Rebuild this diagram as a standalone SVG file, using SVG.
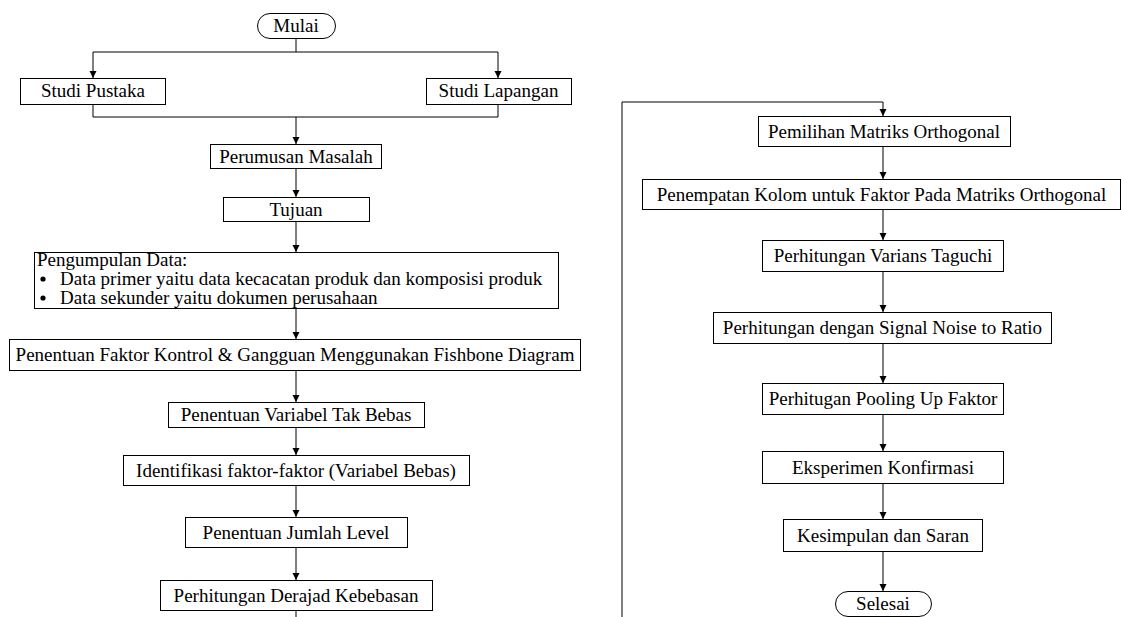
<svg xmlns="http://www.w3.org/2000/svg" width="1122" height="617" viewBox="0 0 1122 617">
<style>
.b{fill:#fff;stroke:#000;stroke-width:1}
.t{font-family:'Liberation Serif','Times New Roman','DejaVu Serif',serif;font-size:19px;fill:#000;text-anchor:middle}
.l{font-family:'Liberation Serif','Times New Roman','DejaVu Serif',serif;font-size:19px;fill:#000}
.c{fill:none;stroke:#000;stroke-width:1}
</style>
<defs>
<marker id="ah" markerUnits="userSpaceOnUse" markerWidth="8" markerHeight="8" refX="7" refY="3.5" orient="auto">
<path d="M0,0 L7,3.5 L0,7 z" fill="#000"/>
</marker>
</defs>
<rect width="1122" height="617" fill="#fff"/>
<g id="connectors">
<path class="c" d="M296,38 V52 M93,52 H498"/>
<path class="c" d="M93,52 V78" marker-end="url(#ah)"/>
<path class="c" d="M498,52 V78" marker-end="url(#ah)"/>
<path class="c" d="M93,104 V117 H498 V104"/>
<path class="c" d="M296,117 V144" marker-end="url(#ah)"/>
<path class="c" d="M296,168 V197" marker-end="url(#ah)"/>
<path class="c" d="M296,221 V252" marker-end="url(#ah)"/>
<path class="c" d="M296,308 V339" marker-end="url(#ah)"/>
<path class="c" d="M296,370 V402" marker-end="url(#ah)"/>
<path class="c" d="M296,427 V455" marker-end="url(#ah)"/>
<path class="c" d="M296,485 V517" marker-end="url(#ah)"/>
<path class="c" d="M296,547 V580" marker-end="url(#ah)"/>
<path class="c" d="M296,610 V617"/>
<path class="c" d="M622,617 V102 H883 V116" marker-end="url(#ah)"/>
<path class="c" d="M883,146 V179" marker-end="url(#ah)"/>
<path class="c" d="M883,209 V240" marker-end="url(#ah)"/>
<path class="c" d="M883,271 V312" marker-end="url(#ah)"/>
<path class="c" d="M883,343 V383" marker-end="url(#ah)"/>
<path class="c" d="M883,414 V451" marker-end="url(#ah)"/>
<path class="c" d="M883,483 V519" marker-end="url(#ah)"/>
<path class="c" d="M883,551 V591" marker-end="url(#ah)"/>
</g>
<g id="mulai"><rect class="b" x="257.5" y="13.5" width="78" height="25" rx="12.5"/><text class="t" x="296" y="32">Mulai</text></g>
<g id="studi-pustaka"><rect class="b" x="20.5" y="78.5" width="145" height="26"/><text class="t" x="93" y="97">Studi Pustaka</text></g>
<g id="studi-lapangan"><rect class="b" x="426.5" y="78.5" width="145" height="26"/><text class="t" x="498.5" y="97">Studi Lapangan</text></g>
<g id="perumusan"><rect class="b" x="210.5" y="144.5" width="171" height="24"/><text class="t" x="296" y="162.5">Perumusan Masalah</text></g>
<g id="tujuan"><rect class="b" x="223.5" y="197.5" width="146" height="24"/><text class="t" x="296" y="215.5">Tujuan</text></g>
<g id="pengumpulan"><rect class="b" x="34.5" y="252.5" width="524" height="56"/>
<text class="l" x="37" y="266">Pengumpulan Data:</text>
<circle cx="43" cy="279" r="2.6" fill="#000"/>
<text class="l" x="60" y="285">Data primer yaitu data kecacatan produk dan komposisi produk</text>
<circle cx="43" cy="298" r="2.6" fill="#000"/>
<text class="l" x="60" y="304">Data sekunder yaitu dokumen perusahaan</text></g>
<g id="faktor"><rect class="b" x="9.5" y="339.5" width="571" height="31"/><text class="t" x="295" y="361">Penentuan Faktor Kontrol &amp; Gangguan Menggunakan Fishbone Diagram</text></g>
<g id="variabel"><rect class="b" x="168.5" y="402.5" width="256" height="25"/><text class="t" x="296" y="421">Penentuan Variabel Tak Bebas</text></g>
<g id="identifikasi"><rect class="b" x="123.5" y="455.5" width="346" height="30"/><text class="t" x="296" y="476.5">Identifikasi faktor-faktor (Variabel Bebas)</text></g>
<g id="jumlah"><rect class="b" x="185.5" y="517.5" width="222" height="30"/><text class="t" x="296" y="538.5">Penentuan Jumlah Level</text></g>
<g id="derajad"><rect class="b" x="160.5" y="580.5" width="272" height="30"/><text class="t" x="296" y="601.5">Perhitungan Derajad Kebebasan</text></g>
<g id="pemilihan"><rect class="b" x="758.5" y="116.5" width="252" height="30"/><text class="t" x="884" y="137.5">Pemilihan Matriks Orthogonal</text></g>
<g id="penempatan"><rect class="b" x="642.5" y="179.5" width="478" height="30"/><text class="t" x="881.5" y="200.5">Penempatan Kolom untuk Faktor Pada Matriks Orthogonal</text></g>
<g id="varians"><rect class="b" x="762.5" y="240.5" width="241" height="31"/><text class="t" x="883" y="262">Perhitungan Varians Taguchi</text></g>
<g id="signal"><rect class="b" x="713.5" y="312.5" width="338" height="31"/><text class="t" x="882.5" y="334">Perhitungan dengan Signal Noise to Ratio</text></g>
<g id="pooling"><rect class="b" x="762.5" y="383.5" width="241" height="31"/><text class="t" x="883" y="405">Perhitugan Pooling Up Faktor</text></g>
<g id="eksperimen"><rect class="b" x="762.5" y="451.5" width="241" height="32"/><text class="t" x="883" y="473.5">Eksperimen Konfirmasi</text></g>
<g id="kesimpulan"><rect class="b" x="783.5" y="519.5" width="199" height="32"/><text class="t" x="883" y="541.5">Kesimpulan dan Saran</text></g>
<g id="selesai"><rect class="b" x="835.5" y="591.5" width="96" height="25" rx="12.5"/><text class="t" x="883" y="610">Selesai</text></g>
</svg>
